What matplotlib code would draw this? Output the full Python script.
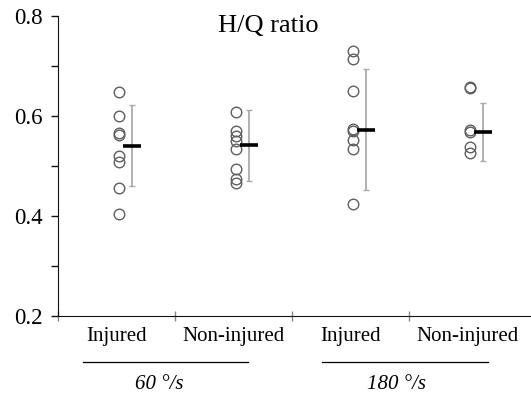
import matplotlib
matplotlib.use("Agg")
import matplotlib.pyplot as plt
import numpy as np

plt.rcParams['font.family'] = ['Liberation Serif', 'DejaVu Serif']

title = "H/Q ratio"
categories = ["Injured", "Non-injured", "Injured", "Non-injured"]
speeds = ["60 °/s", "180 °/s"]

inj_60 = [0.649, 0.601, 0.567, 0.563, 0.520, 0.508, 0.456, 0.404]
noninj_60 = [0.609, 0.570, 0.560, 0.551, 0.535, 0.494, 0.474, 0.467]
inj_180 = [0.730, 0.714, 0.650, 0.575, 0.571, 0.553, 0.535, 0.424]
noninj_180 = [0.659, 0.657, 0.573, 0.568, 0.539, 0.527]
groups = [inj_60, noninj_60, inj_180, noninj_180]

means = [0.541, 0.542, 0.573, 0.569]
sds = [0.081, 0.071, 0.121, 0.058]

yticks = [0.2, 0.4, 0.6, 0.8]
yticks_minor = [0.3, 0.5, 0.7]

W, H = 531, 404
fig = plt.figure(figsize=(W / 100, H / 100), dpi=100)
ax = fig.add_axes([58 / W, 88 / H, 473 / W, 300 / H])
ax.set_xlim(0, 473 / 117)
ax.set_ylim(0.2, 0.8)

pt_off = 0.02
for i, vals in enumerate(groups):
    xs = np.full(len(vals), i + 0.5 + pt_off)
    ax.plot(xs, vals, linestyle='none', marker='o', markersize=7.6,
            markerfacecolor='none', markeredgecolor='#5f5f5f',
            markeredgewidth=1.0, clip_on=False, zorder=3)

xc = np.arange(len(groups)) + 0.5 + pt_off
ax.errorbar(xc + 0.115, means, yerr=sds, fmt='none', ecolor='#aaaaaa',
            elinewidth=1.3, capsize=2.2, capthick=1.0, zorder=2)
ax.hlines(means, xc + 0.035, xc + 0.19, color='black', linewidth=2.6, zorder=4)

ax.spines['top'].set_visible(False)
ax.spines['right'].set_visible(False)
ax.spines['left'].set_color('#111111')
ax.spines['bottom'].set_color('#111111')

ax.set_yticks(yticks)
ax.set_yticklabels([f"{v:.1f}" for v in yticks], fontsize=16.5)
ax.set_yticks(yticks_minor, minor=True)
ax.tick_params(axis='y', which='both', direction='out', length=5, width=1,
               color='#111111', pad=6)

ax.set_xticks(np.arange(len(groups)))
ax.set_xticklabels([])
ax.tick_params(axis='x', which='major', direction='inout', length=7, width=1,
               color='#888888')
ax.set_xticks(np.arange(len(groups)) + 0.5, minor=True)
ax.set_xticklabels(categories, minor=True, fontsize=15)
ax.tick_params(axis='x', which='minor', length=0, pad=8)

ax.text(0.445, 1.005, title, transform=ax.transAxes, ha='center', va='top',
        fontsize=19)

for (x0, x1) in [(0.214, 1.624), (2.256, 3.675)]:
    ax.plot([x0, x1], [-0.153, -0.153], color='black', linewidth=0.9,
            transform=ax.get_xaxis_transform(), clip_on=False)

for xt, s in zip([0.865, 2.895], speeds):
    ax.text(xt, -0.227, s, transform=ax.get_xaxis_transform(), ha='center',
            va='center', fontsize=15, style='italic')

fig.savefig("out.png", dpi=100)
